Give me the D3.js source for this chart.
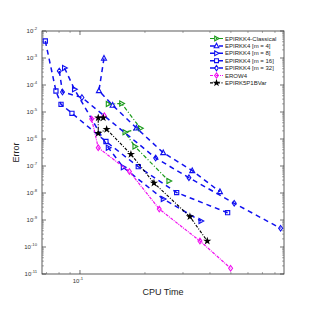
<!DOCTYPE html>
<html>
<head>
<meta charset="utf-8">
<script src="https://cdn.jsdelivr.net/npm/d3@7"></script>
<style>
  body { margin: 0; background: #fff; }
  text { font-family: "Liberation Sans", Arial, sans-serif; }
</style>
</head>
<body>
<div id="chart"></div>
<script>
// CPU time / error pairs, one array per method
var classical = [[0.1352,1.98e-5],[0.1560,2.06e-5],[0.1906,2.49e-6],[0.1616,1.77e-6],[0.1797,5.28e-7],[0.2582,2.78e-8]]
var m4 = [[0.1292,9.75e-4],[0.1224,6.15e-5],[0.1417,1.77e-5],[0.1826,2.55e-6],[0.2430,3.11e-7],[0.3311,6.70e-8],[0.4448,1.12e-8]]
var m8 = [[0.0848,4.27e-4],[0.0943,6.93e-5],[0.1352,4.76e-7],[0.1587,8.95e-8],[0.2430,6.0e-9],[0.3633,9.18e-10]]
var m16 = [[0.0691,4.27e-3],[0.0774,6.0e-5],[0.0817,1.93e-5],[0.0918,8.95e-6],[0.1319,8.08e-7],[0.1862,9.42e-8],[0.2804,1.04e-8],[0.4829,1.86e-9]]
var m32 = [[0.0802,3.30e-4],[0.0830,5.5e-5],[0.1021,3.44e-5],[0.2241,1.98e-7],[0.3196,3.69e-8],[0.5181,4.16e-9],[0.8496,4.93e-10]]
var erow4 = [[0.1296,7.30e-6],[0.1133,5.5e-6],[0.1215,4.76e-7],[0.1695,6.25e-8],[0.2329,2.55e-9],[0.3594,1.67e-10],[0.4986,1.63e-11]]
var epirk5 = [[0.1282,6.15e-6],[0.1215,6.15e-6],[0.1215,1.63e-6],[0.1329,2.29e-6],[0.1722,2.71e-7],[0.2201,2.35e-8],[0.3230,1.33e-9],[0.3886,1.67e-10]]

var names = ["EPIRKK4-Classical","EPIRKK4 [m = 4]","EPIRKK4 [m = 8]","EPIRKK4 [m = 16]","EPIRKK4 [m = 32]","EROW4","EPIRK5P1BVar"]
var yTickExps = [-2,-3,-4,-5,-6,-7,-8,-9,-10,-11]
var xMajor = [0.1]
var xMinor = [0.07,0.08,0.09,0.2,0.3,0.4,0.5,0.6,0.7,0.8]

var series = [
  {data: classical, color: "#1a9a1a", marker: "tright", dash: "4,2,1,2", width: 1.2},
  {data: m4, color: "#1010f0", marker: "tup", dash: "5,4", width: 1.5},
  {data: m8, color: "#1010f0", marker: "tright", dash: "5,4", width: 1.5},
  {data: m16, color: "#1010f0", marker: "square", dash: "5,4", width: 1.5},
  {data: m32, color: "#1010f0", marker: "diamond", dash: "5,4", width: 1.5},
  {data: erow4, color: "#f010f0", marker: "diamond", dash: "3,1,1,1", width: 1.2},
  {data: epirk5, color: "#000000", marker: "star", dash: "3,1.5,1,1.5", width: 1.1}
]

var W = 315, H = 315
var margin = {top: 31, right: 31, bottom: 41, left: 42}
var width = W - margin.left - margin.right,
    height = H - margin.top - margin.bottom

var svg = d3.select("#chart")
  .append("svg")
    .attr("width", W)
    .attr("height", H)

var g = svg.append("g")
    .attr("transform", "translate(" + margin.left + "," + margin.top + ")")

var x = d3.scaleLog().domain([0.0667, 0.881]).range([0, width])
var y = d3.scaleLog().domain([1e-11, 1e-2]).range([height, 0])

// frame
g.append("rect")
  .attr("width", width).attr("height", height)
  .attr("fill", "none").attr("stroke", "#333").attr("stroke-width", 0.8)

// y ticks, inward on both sides, minor ticks inside each decade
yTickExps.forEach(function(e) {
  var yy = y(Math.pow(10, e))
  g.append("line").attr("x1", 0).attr("x2", 4).attr("y1", yy).attr("y2", yy).attr("stroke", "#333").attr("stroke-width", 0.7)
  g.append("line").attr("x1", width).attr("x2", width - 4).attr("y1", yy).attr("y2", yy).attr("stroke", "#333").attr("stroke-width", 0.7)
  if (e < -2) {
    for (var k = 2; k <= 9; k++) {
      var ym = y(k * Math.pow(10, e))
      g.append("line").attr("x1", 0).attr("x2", 2).attr("y1", ym).attr("y2", ym).attr("stroke", "#555").attr("stroke-width", 0.5)
      g.append("line").attr("x1", width).attr("x2", width - 2).attr("y1", ym).attr("y2", ym).attr("stroke", "#555").attr("stroke-width", 0.5)
    }
  }
  var t = g.append("text")
    .attr("x", -5).attr("y", yy + 2)
    .attr("text-anchor", "end")
    .attr("font-size", 6).attr("fill", "#333")
  t.append("tspan").text("10")
  t.append("tspan").attr("dy", -3).attr("font-size", 4.2).text(e)
})

// x ticks
xMajor.forEach(function(v) {
  var xx = x(v)
  g.append("line").attr("x1", xx).attr("x2", xx).attr("y1", height).attr("y2", height - 4).attr("stroke", "#333").attr("stroke-width", 0.7)
  g.append("line").attr("x1", xx).attr("x2", xx).attr("y1", 0).attr("y2", 4).attr("stroke", "#333").attr("stroke-width", 0.7)
  var t = g.append("text")
    .attr("x", xx - 2).attr("y", height + 9)
    .attr("text-anchor", "middle")
    .attr("font-size", 6).attr("fill", "#333")
  t.append("tspan").text("10")
  t.append("tspan").attr("dy", -3).attr("font-size", 4.2).text("-1")
})
xMinor.forEach(function(v) {
  var xx = x(v)
  g.append("line").attr("x1", xx).attr("x2", xx).attr("y1", height).attr("y2", height - 2).attr("stroke", "#555").attr("stroke-width", 0.5)
  g.append("line").attr("x1", xx).attr("x2", xx).attr("y1", 0).attr("y2", 2).attr("stroke", "#555").attr("stroke-width", 0.5)
})

// axis labels
svg.append("text")
  .attr("x", margin.left + width / 2).attr("y", 295)
  .attr("text-anchor", "middle").attr("font-size", 9).attr("fill", "#222")
  .text("CPU Time")

svg.append("text")
  .attr("transform", "translate(19," + (margin.top + height / 2) + ") rotate(-90)")
  .attr("text-anchor", "middle").attr("font-size", 9).attr("fill", "#222")
  .text("Error")

function markerPath(type, s) {
  if (type == "tup") return "M0," + (-s) + "L" + (s * 0.9) + "," + (s * 0.7) + "L" + (-s * 0.9) + "," + (s * 0.7) + "Z"
  if (type == "tright") return "M" + s + ",0L" + (-s * 0.7) + "," + (s * 0.9) + "L" + (-s * 0.7) + "," + (-s * 0.9) + "Z"
  if (type == "square") return "M" + (-s * 0.75) + "," + (-s * 0.75) + "h" + (s * 1.5) + "v" + (s * 1.5) + "h" + (-s * 1.5) + "Z"
  if (type == "diamond") return "M0," + (-s) + "L" + (s * 0.7) + ",0L0," + s + "L" + (-s * 0.7) + ",0Z"
  return d3.symbol().type(d3.symbolStar).size(s * s * 0.9)()
}

var line = d3.line()
  .x(function(d) { return x(d[0]) })
  .y(function(d) { return y(d[1]) })

series.forEach(function(s) {
  g.append("path")
    .datum(s.data)
    .attr("d", line)
    .attr("fill", "none")
    .attr("stroke", s.color)
    .attr("stroke-width", s.width)
    .attr("stroke-dasharray", s.dash)

  g.selectAll(null)
    .data(s.data)
    .enter()
    .append("path")
      .attr("transform", function(d) { return "translate(" + x(d[0]) + "," + y(d[1]) + ")" })
      .attr("d", markerPath(s.marker, 2.8))
      .attr("fill", s.marker == "star" ? s.color : "none")
      .attr("stroke", s.color)
      .attr("stroke-width", 1.1)
})

// legend
var leg = svg.append("g").attr("transform", "translate(210,38.5)")
series.forEach(function(s, i) {
  var row = leg.append("g").attr("transform", "translate(0," + (i * 7.4) + ")")
  row.append("line")
    .attr("x1", 0).attr("x2", 13).attr("y1", 0).attr("y2", 0)
    .attr("stroke", s.color).attr("stroke-width", s.width)
    .attr("stroke-dasharray", s.dash)
  row.append("path")
    .attr("transform", "translate(6.5,0)")
    .attr("d", markerPath(s.marker, 2.6))
    .attr("fill", s.marker == "star" ? s.color : "none")
    .attr("stroke", s.color).attr("stroke-width", 1.1)
  row.append("text")
    .attr("x", 15).attr("y", 2.1)
    .attr("font-size", 6).attr("fill", "#222")
    .text(names[i])
})
</script>
</body>
</html>
